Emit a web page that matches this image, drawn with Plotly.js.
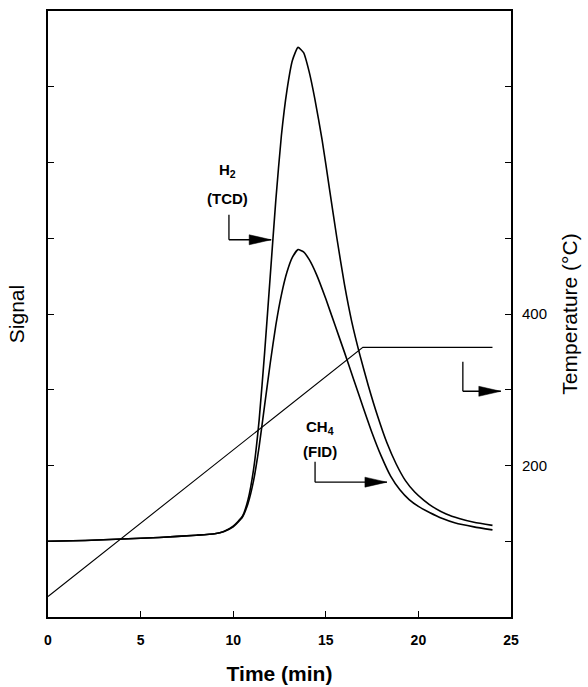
<!DOCTYPE html>
<html>
<head>
<meta charset="utf-8">
<script src="https://cdn.plot.ly/plotly-3.0.1.min.js"></script>
<style>html,body{margin:0;padding:0;background:#fff;}#chart{width:588px;height:687px;}</style>
</head>
<body>
<div id="chart"></div>
<script>
// ---- Data ----
const h2Time = [0, 2, 4, 6, 8, 9, 9.5, 10, 10.5, 10.8, 11.1, 11.4, 11.7, 12.0, 12.3, 12.6, 12.9, 13.2, 13.5, 13.8, 14.1, 14.4, 14.8, 15.2, 15.6, 16.0, 16.4, 16.85, 17.3, 17.8, 18.3, 18.8, 19.3, 19.8, 20.3, 20.8, 21.5, 22.2, 23.0, 24];
const h2Signal = [1.0, 1.01, 1.03, 1.05, 1.08, 1.1, 1.13, 1.2, 1.33, 1.55, 1.95, 2.6, 3.5, 4.5, 5.5, 6.35, 6.95, 7.35, 7.52, 7.45, 7.2, 6.85, 6.3, 5.65, 5.0, 4.4, 3.9, 3.45, 3.05, 2.65, 2.3, 2.02, 1.8, 1.65, 1.54, 1.45, 1.36, 1.3, 1.25, 1.21];

const ch4Time = [0, 2, 4, 6, 8, 9, 9.5, 10, 10.5, 10.8, 11.1, 11.4, 11.7, 12.0, 12.3, 12.6, 12.9, 13.2, 13.5, 13.8, 14.1, 14.5, 15.0, 15.5, 16.0, 16.5, 17.0, 17.5, 18.0, 18.5, 19.0, 19.5, 20.0, 20.6, 21.3, 22.0, 23.0, 24];
const ch4Signal = [1.0, 1.01, 1.03, 1.05, 1.08, 1.1, 1.13, 1.19, 1.32, 1.5, 1.8, 2.25, 2.8, 3.35, 3.85, 4.25, 4.55, 4.75, 4.85, 4.82, 4.72, 4.52, 4.2, 3.85, 3.5, 3.14, 2.78, 2.43, 2.12, 1.86, 1.68, 1.55, 1.46, 1.38, 1.3, 1.24, 1.19, 1.15];

const tempTime = [0, 17, 24];
const tempValue = [27, 356, 356];

const xTicks = [0, 5, 10, 15, 20, 25];
const signalTicks = [1, 2, 3, 4, 5, 6, 7];
const tempLabelTicks = [200, 400];

// ---- Styling ----
const FONT = 'Liberation Sans, Arial, Helvetica, sans-serif';
const black = '#000';

const traces = [
  {x: h2Time, y: h2Signal, type: 'scatter', mode: 'lines', name: 'H2 (TCD)',
   line: {color: black, width: 1.6, shape: 'spline', smoothing: 0.5}, yaxis: 'y'},
  {x: ch4Time, y: ch4Signal, type: 'scatter', mode: 'lines', name: 'CH4 (FID)',
   line: {color: black, width: 1.6, shape: 'spline', smoothing: 0.5}, yaxis: 'y'},
  {x: tempTime, y: tempValue, type: 'scatter', mode: 'lines', name: 'Temperature',
   line: {color: black, width: 1.1}, yaxis: 'y2'}
];

function arrowShapes(xv, yTop, yMid, xTip) {
  return [
    {type: 'line', xref: 'x', yref: 'y', x0: xv, x1: xv, y0: yTop, y1: yMid, line: {color: black, width: 1.3}},
    {type: 'line', xref: 'x', yref: 'y', x0: xv, x1: xTip, y0: yMid, y1: yMid, line: {color: black, width: 1.3}},
    {type: 'path', xref: 'x', yref: 'y', xsizemode: 'pixel', ysizemode: 'pixel', xanchor: xTip, yanchor: yMid,
     path: 'M 0 0 L -22 5 L -22 -5 Z', fillcolor: black, line: {color: black, width: 0.5}}
  ];
}

const shapes = [].concat(
  arrowShapes(9.77, 5.31, 4.98, 12.05),
  arrowShapes(14.42, 2.05, 1.78, 18.3),
  arrowShapes(22.4, 3.37, 2.98, 24.45)
);

const annFont = {family: FONT, size: 15, color: black, weight: 'bold'};
const annotations = [
  {x: 9.7, y: 5.9, xref: 'x', yref: 'y', text: 'H<sub>2</sub>', showarrow: false, font: annFont},
  {x: 9.7, y: 5.52, xref: 'x', yref: 'y', text: '(TCD)', showarrow: false, font: annFont},
  {x: 14.7, y: 2.5, xref: 'x', yref: 'y', text: 'CH<sub>4</sub>', showarrow: false, font: annFont},
  {x: 14.7, y: 2.18, xref: 'x', yref: 'y', text: '(FID)', showarrow: false, font: annFont}
];

const layout = {
  width: 588, height: 687,
  margin: {l: 48, r: 77, t: 11, b: 70},
  paper_bgcolor: '#fff', plot_bgcolor: '#fff',
  showlegend: false,
  font: {family: FONT, color: black},
  xaxis: {
    range: [0, 25], tickvals: xTicks, ticks: 'inside', ticklen: 6, tickwidth: 1, tickcolor: black,
    showline: true, linewidth: 2, linecolor: black, mirror: true, showgrid: false, zeroline: false,
    tickfont: {family: FONT, size: 14, weight: 'bold', color: black}, ticklabelstandoff: 9,
    title: {text: 'Time (min)', font: {family: FONT, size: 21, weight: 'bold', color: black}, standoff: 20}
  },
  yaxis: {
    range: [0, 8], tickvals: signalTicks, ticks: 'inside', ticklen: 6, tickwidth: 1, tickcolor: black,
    showticklabels: false, showline: true, linewidth: 2, linecolor: black, mirror: 'ticks',
    showgrid: false, zeroline: false,
    title: {text: 'Signal', font: {family: FONT, size: 21, color: black}, standoff: 16}
  },
  yaxis2: {
    overlaying: 'y', side: 'right', range: [0, 800], tickvals: tempLabelTicks,
    ticks: '', showline: false,
    showgrid: false, zeroline: false, ticklabelstandoff: 10,
    tickfont: {family: FONT, size: 15, color: black},
    title: {text: 'Temperature (°C)', font: {family: FONT, size: 21, color: black}, standoff: 16}
  },
  shapes: shapes,
  annotations: annotations
};

Plotly.newPlot('chart', traces, layout, {displayModeBar: false, staticPlot: true});
</script>
</body>
</html>
